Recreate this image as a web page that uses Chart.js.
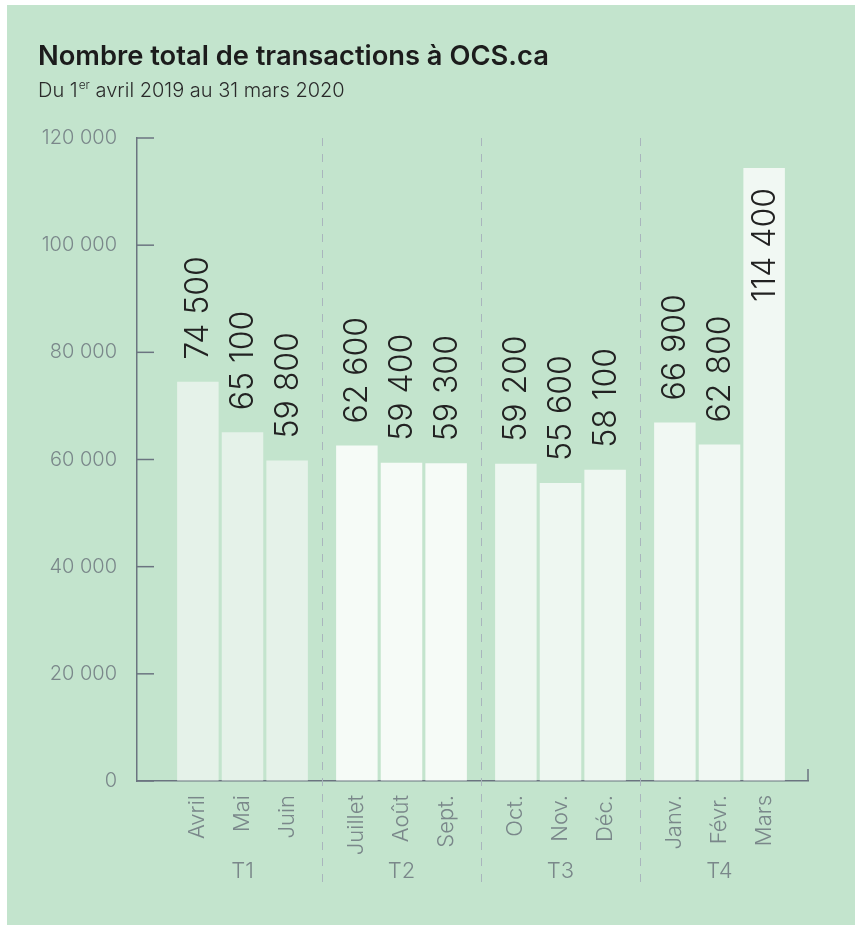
<!DOCTYPE html>
<html>
<head>
<meta charset="utf-8">
<script src="https://cdn.jsdelivr.net/npm/chart.js@4.4.1/dist/chart.umd.min.js"></script>
<style>
  html, body { margin: 0; padding: 0; background: #ffffff; }
  canvas { display: block; }
</style>
</head>
<body>
<canvas id="c" width="861" height="930"></canvas>
<script>
// ---- Data ----
const months = ['Avril', 'Mai', 'Juin', 'Juillet', 'Août', 'Sept.', 'Oct.', 'Nov.', 'Déc.', 'Janv.', 'Févr.', 'Mars'];
const quarters = ['T1', 'T2', 'T3', 'T4'];
const transactions = [74500, 65100, 59800, 62600, 59400, 59300, 59200, 55600, 58100, 66900, 62800, 114400];
const yTickValues = [0, 20000, 40000, 60000, 80000, 100000, 120000];
const titleText = 'Nombre total de transactions à OCS.ca';
const subtitleParts = ['Du 1', 'er', ' avril 2019 au 31 mars 2020'];

// ---- Styles ----
const quarterColors = ['#e5f2e9', '#f6fbf7', '#eef7f1', '#f1f8f3'];
const axisColor = '#6b7480';
const tickTextColor = '#7a878a';
const FONT = 'Inter, "Open Sans", "Liberation Sans", sans-serif';

function fmt(v) {
  return String(v).replace(/\B(?=(\d{3})+(?!\d))/g, ' ');
}

const datasets = [0, 1, 2].map(j => ({
  label: 'M' + (j + 1),
  data: quarters.map((q, i) => ({ x: i, y: transactions[i * 3 + j] })),
  backgroundColor: quarters.map((q, i) => quarterColors[i]),
  borderWidth: 0,
  categoryPercentage: 0.842,
  barPercentage: 0.93
}));

const decorPlugin = {
  id: 'decor',
  beforeDraw(chart) {
    const ctx = chart.ctx;
    ctx.save();
    ctx.fillStyle = '#ffffff';
    ctx.fillRect(0, 0, chart.width, chart.height);
    ctx.fillStyle = '#c3e4cd';
    ctx.fillRect(7, 5, 848, 920);
    ctx.restore();
  },
  beforeDatasetsDraw(chart) {
    const ctx = chart.ctx;
    const xs = chart.scales.x;
    const ys = chart.scales.y;
    const area = chart.chartArea;
    ctx.save();
    // quarter separators
    ctx.strokeStyle = '#a9b5bd';
    ctx.lineWidth = 1;
    ctx.setLineDash([8, 8]);
    for (let i = 0; i < quarters.length - 1; i++) {
      const px = Math.round(xs.getPixelForValue(i + 0.5)) + 0.5;
      ctx.beginPath();
      ctx.moveTo(px, area.top);
      ctx.lineTo(px, 882);
      ctx.stroke();
    }
    ctx.setLineDash([]);
    // inward y ticks
    ctx.strokeStyle = axisColor;
    ctx.lineWidth = 1.5;
    yTickValues.forEach(v => {
      const py = ys.getPixelForValue(v);
      ctx.beginPath();
      ctx.moveTo(area.left, py);
      ctx.lineTo(area.left + 17, py);
      ctx.stroke();
    });
    // right end tick of x axis
    ctx.beginPath();
    ctx.moveTo(area.right, area.bottom);
    ctx.lineTo(area.right, area.bottom - 12);
    ctx.stroke();
    ctx.restore();
  },
  afterDatasetsDraw(chart) {
    const ctx = chart.ctx;
    const area = chart.chartArea;
    ctx.save();
    chart.data.datasets.forEach((ds, j) => {
      const meta = chart.getDatasetMeta(j);
      meta.data.forEach((bar, i) => {
        const idx = i * 3 + j;
        const val = transactions[idx];
        const label = fmt(val);
        // value label
        ctx.font = '300 32px ' + FONT;
        ctx.fillStyle = '#222222';
        ctx.textBaseline = 'middle';
        const w = ctx.measureText(label).width;
        ctx.save();
        ctx.translate(bar.x + 1, bar.y);
        ctx.rotate(-Math.PI / 2);
        if (bar.y - 22 - w < area.top) {
          ctx.textAlign = 'right';
          ctx.fillText(label, -20, 0);
        } else {
          ctx.textAlign = 'left';
          ctx.fillText(label, 22, 0);
        }
        ctx.restore();
        // month label
        ctx.font = '300 22px ' + FONT;
        ctx.fillStyle = tickTextColor;
        ctx.save();
        ctx.translate(bar.x, area.bottom + 14);
        ctx.rotate(-Math.PI / 2);
        ctx.textAlign = 'right';
        ctx.textBaseline = 'middle';
        ctx.fillText(months[idx], 0, 0);
        ctx.restore();
      });
    });
    ctx.restore();
  },
  afterDraw(chart) {
    const ctx = chart.ctx;
    ctx.save();
    ctx.fillStyle = '#1c1c1c';
    ctx.textAlign = 'left';
    ctx.textBaseline = 'alphabetic';
    ctx.font = '600 27.3px ' + FONT;
    ctx.fillText(titleText, 38, 65);
    ctx.fillStyle = '#2a2a2a';
    let x = 38;
    ctx.font = '300 20px ' + FONT;
    ctx.fillText(subtitleParts[0], x, 97);
    x += ctx.measureText(subtitleParts[0]).width + 1;
    ctx.font = '300 12px ' + FONT;
    ctx.fillText(subtitleParts[1], x, 89);
    x += ctx.measureText(subtitleParts[1]).width;
    ctx.font = '300 20px ' + FONT;
    ctx.fillText(subtitleParts[2], x, 97);
    ctx.restore();
  }
};

new Chart(document.getElementById('c'), {
  type: 'bar',
  data: { datasets },
  options: {
    responsive: false,
    animation: false,
    devicePixelRatio: 1,
    layout: { padding: { top: 138, left: 0, right: 53, bottom: 0 } },
    plugins: {
      legend: { display: false },
      tooltip: { enabled: false },
      title: { display: false }
    },
    scales: {
      x: {
        type: 'linear',
        min: -0.6635,
        max: 3.5566,
        offset: false,
        afterFit(scale) { scale.height = 149; },
        afterBuildTicks(scale) { scale.ticks = quarters.map((q, i) => ({ value: i })); },
        grid: { display: true, drawOnChartArea: false, drawTicks: false },
        border: { display: true, color: axisColor, width: 1.5 },
        ticks: {
          padding: 77,
          maxRotation: 0,
          autoSkip: false,
          color: tickTextColor,
          font: { family: FONT, size: 22, weight: '300' },
          callback: (v) => quarters[v] !== undefined ? quarters[v] : ''
        }
      },
      y: {
        min: 0,
        max: 120000,
        afterFit(scale) { scale.width = 137; },
        afterBuildTicks(scale) { scale.ticks = yTickValues.map(v => ({ value: v })); },
        grid: { display: true, drawOnChartArea: false, drawTicks: false },
        border: { display: true, color: axisColor, width: 1.5 },
        ticks: {
          padding: 20,
          color: tickTextColor,
          font: { family: FONT, size: 20, weight: '300' },
          callback: (v) => fmt(v)
        }
      }
    }
  },
  plugins: [decorPlugin]
});
</script>
</body>
</html>
